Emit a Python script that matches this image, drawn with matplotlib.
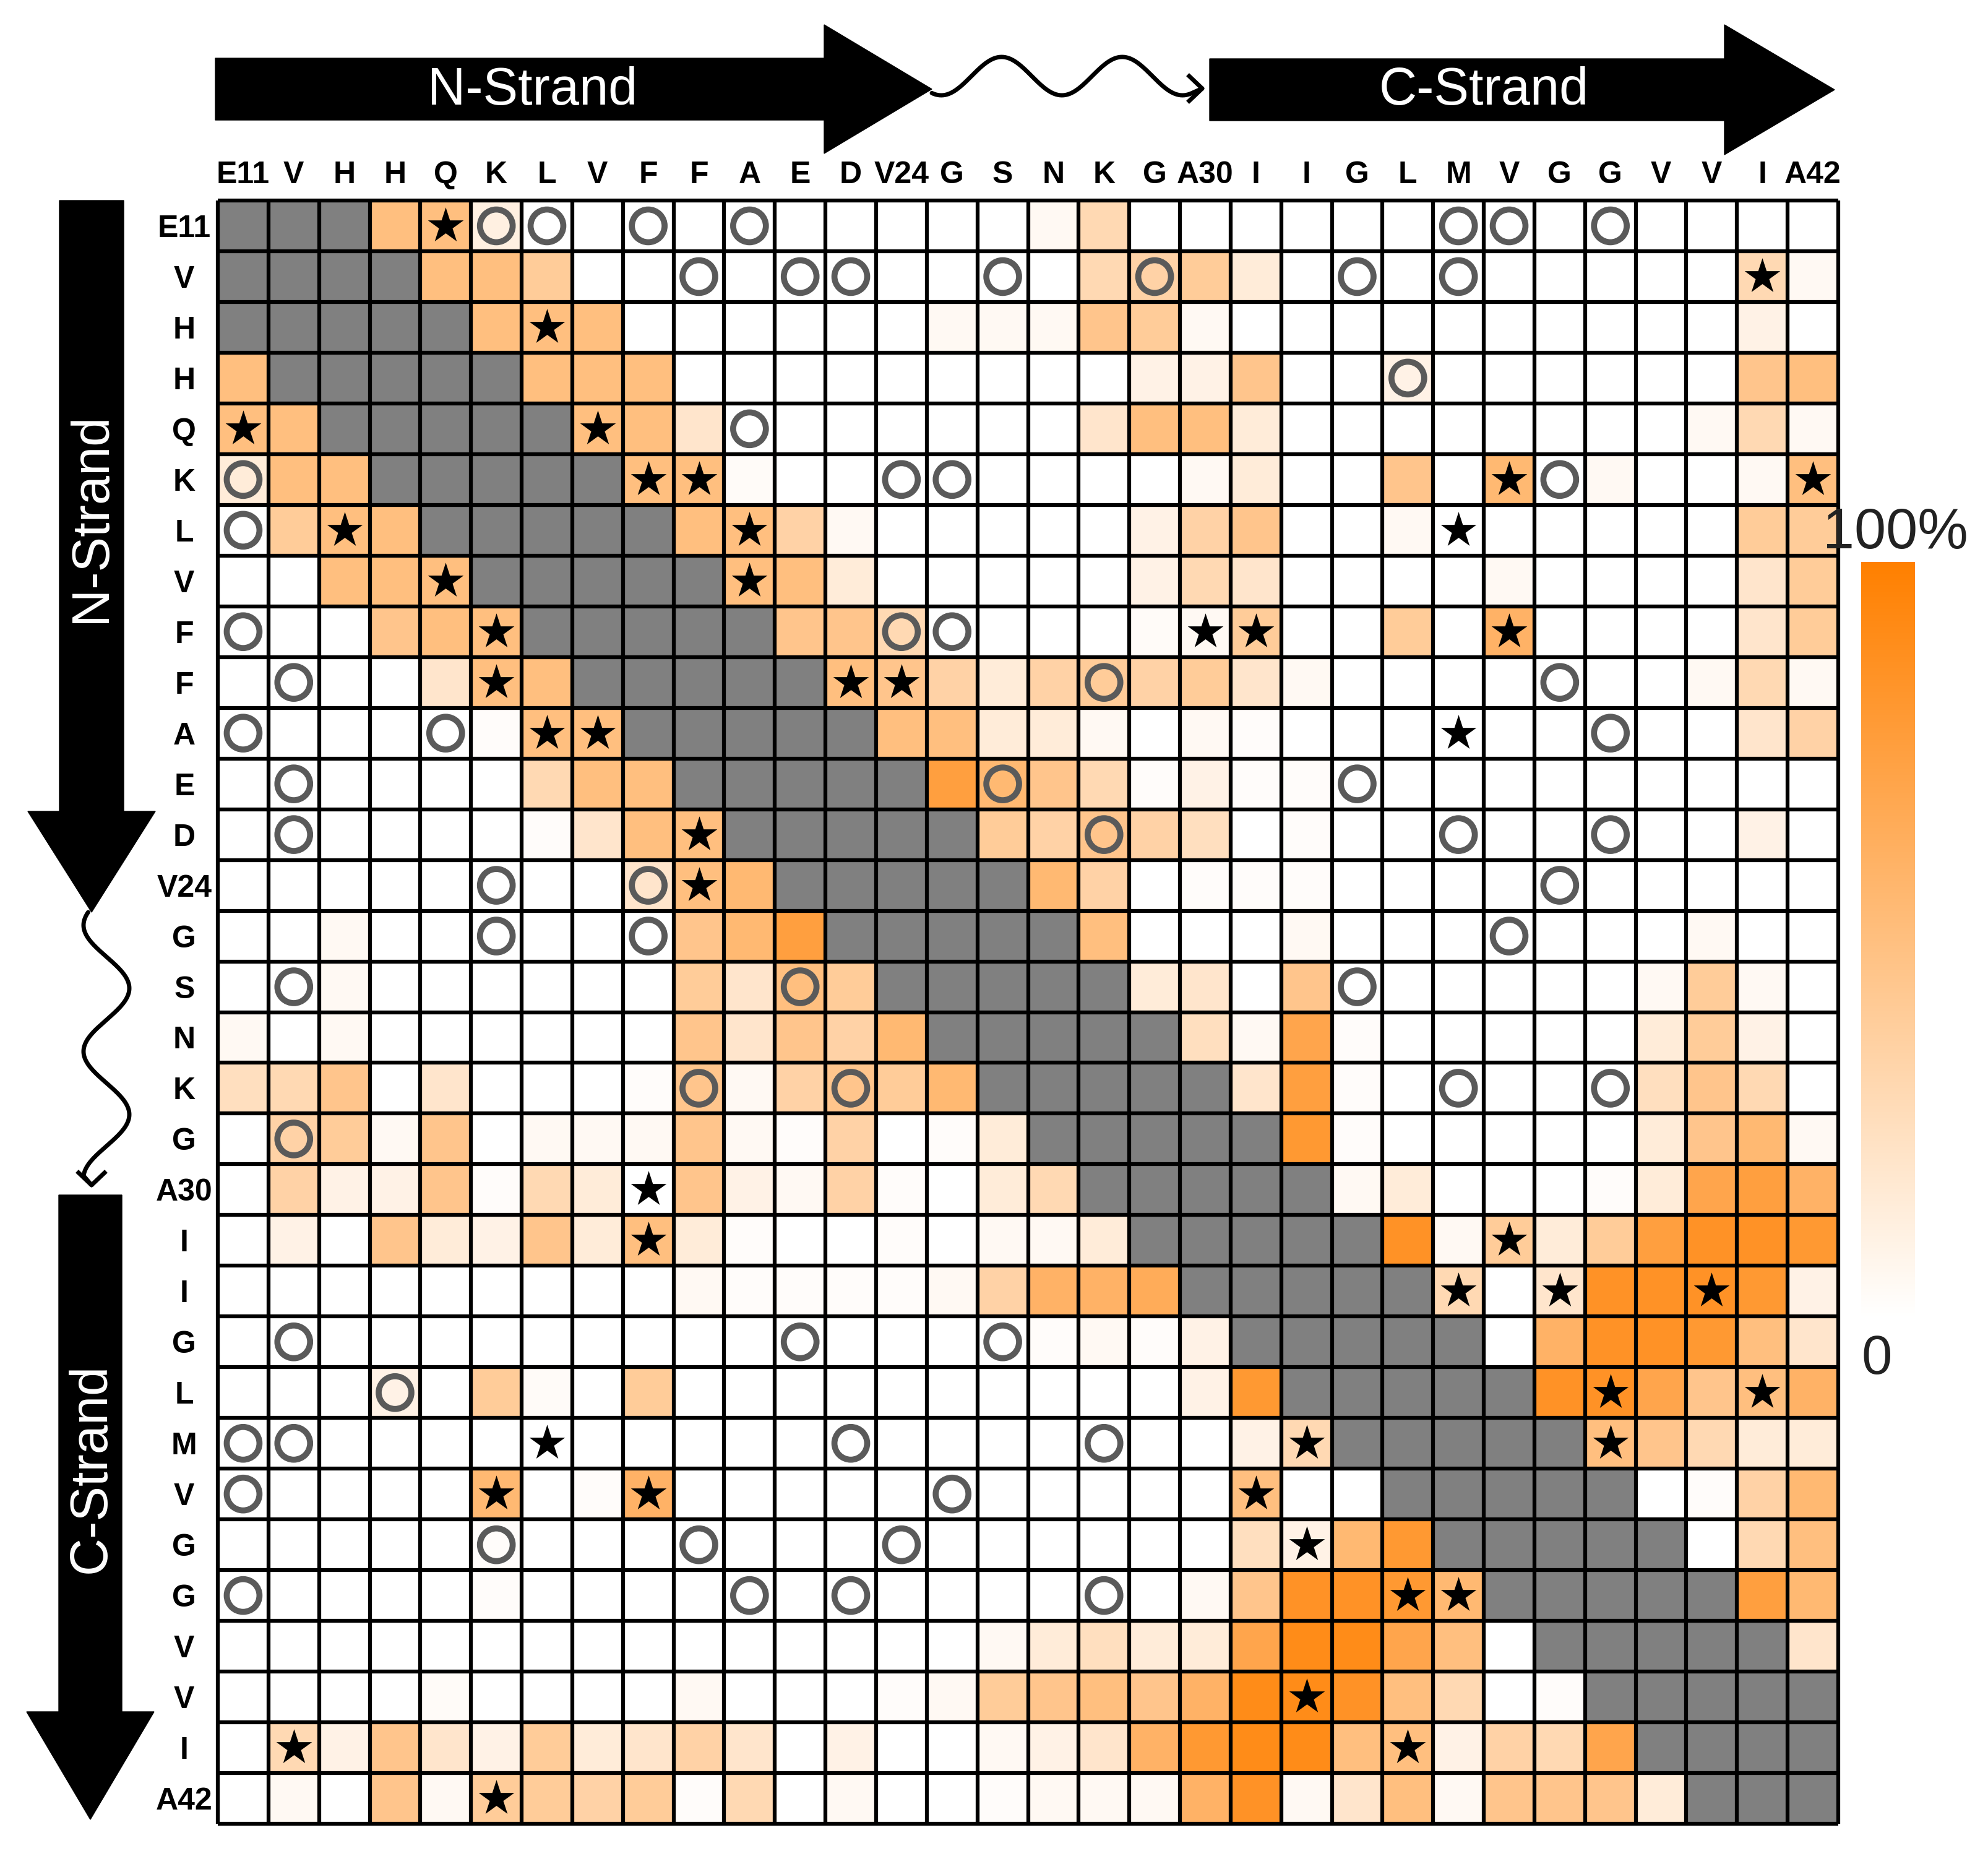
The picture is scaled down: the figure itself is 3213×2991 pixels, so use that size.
import numpy as np
import matplotlib.pyplot as plt
from matplotlib.colors import LinearSegmentedColormap
from matplotlib.patches import Polygon

plt.rcParams["font.family"] = ["Liberation Sans", "DejaVu Sans"]

residues = ["E11", "V", "H", "H", "Q", "K", "L", "V", "F", "F", "A", "E", "D", "V24",
            "G", "S", "N", "K", "G", "A30", "I", "I", "G", "L", "M", "V", "G", "G",
            "V", "V", "I", "A42"]

# contact frequency in %, None = excluded (near-diagonal) pair
G = None
contact = [
    [G, G, G, 50, 50, 12, 0, 0, 0, 0, 0, 0, 0, 0, 0, 0, 5, 30, 0, 0, 0, 0, 0, 0, 0, 0, 0, 0, 0, 0, 0, 0],
    [G, G, G, G, 50, 50, 40, 0, 0, 0, 0, 0, 0, 0, 0, 0, 0, 30, 35, 40, 15, 0, 0, 0, 0, 0, 0, 0, 0, 0, 30, 5],
    [G, G, G, G, G, 50, 50, 50, 0, 0, 0, 0, 0, 0, 5, 5, 5, 45, 40, 5, 0, 0, 0, 0, 0, 0, 0, 0, 0, 0, 10, 0],
    [50, G, G, G, G, G, 50, 50, 50, 0, 0, 0, 0, 0, 0, 0, 0, 0, 10, 10, 45, 0, 0, 10, 0, 0, 0, 0, 0, 0, 45, 50],
    [50, 50, G, G, G, G, G, 50, 50, 20, 0, 0, 0, 0, 0, 0, 0, 20, 50, 50, 15, 0, 0, 0, 0, 0, 0, 0, 0, 5, 30, 5],
    [15, 50, 50, G, G, G, G, G, 50, 50, 3, 0, 0, 0, 0, 0, 0, 0, 0, 5, 15, 0, 0, 45, 0, 55, 0, 5, 0, 0, 5, 50],
    [0, 40, 50, 50, G, G, G, G, G, 50, 50, 35, 5, 0, 0, 0, 0, 0, 10, 35, 45, 0, 0, 5, 0, 0, 0, 0, 0, 0, 40, 40],
    [0, 0, 50, 50, 50, G, G, G, G, G, 50, 50, 15, 0, 0, 0, 0, 0, 10, 30, 20, 0, 0, 0, 0, 5, 0, 0, 0, 0, 20, 40],
    [0, 0, 0, 45, 50, 50, G, G, G, G, G, 45, 45, 30, 0, 0, 0, 0, 3, 5, 40, 0, 0, 40, 0, 60, 0, 0, 0, 0, 20, 40],
    [0, 0, 0, 0, 20, 50, 50, G, G, G, G, G, 50, 45, 35, 15, 35, 40, 35, 40, 20, 5, 0, 0, 0, 0, 0, 0, 0, 5, 30, 5],
    [0, 0, 0, 0, 0, 2, 50, 50, G, G, G, G, G, 50, 50, 15, 15, 5, 0, 5, 2, 0, 0, 0, 0, 0, 0, 0, 0, 0, 20, 35],
    [0, 0, 0, 0, 0, 0, 30, 50, 50, G, G, G, G, G, 75, 55, 45, 30, 2, 10, 2, 2, 0, 0, 0, 0, 0, 0, 0, 0, 0, 0],
    [0, 0, 0, 0, 0, 0, 2, 20, 50, 50, G, G, G, G, G, 40, 35, 45, 35, 25, 0, 2, 0, 0, 0, 0, 0, 0, 0, 0, 10, 0],
    [0, 0, 0, 0, 0, 0, 0, 0, 20, 50, 55, G, G, G, G, G, 55, 35, 0, 2, 2, 2, 0, 0, 0, 0, 0, 0, 0, 0, 0, 0],
    [0, 0, 5, 0, 0, 0, 0, 0, 0, 45, 55, 75, G, G, G, G, G, 50, 0, 0, 0, 5, 0, 0, 0, 0, 0, 0, 0, 5, 0, 0],
    [0, 0, 5, 0, 0, 0, 0, 0, 0, 40, 20, 50, 40, G, G, G, G, G, 15, 20, 0, 45, 0, 0, 0, 0, 0, 0, 5, 40, 5, 0],
    [5, 0, 5, 0, 0, 0, 0, 0, 0, 45, 20, 45, 35, 55, G, G, G, G, G, 25, 5, 70, 2, 0, 0, 0, 0, 0, 15, 40, 10, 0],
    [25, 30, 45, 0, 20, 0, 0, 0, 2, 45, 5, 35, 45, 40, 55, G, G, G, G, G, 20, 75, 2, 0, 0, 0, 0, 0, 25, 45, 30, 0],
    [0, 35, 40, 5, 45, 0, 5, 5, 5, 45, 5, 2, 35, 0, 2, 15, G, G, G, G, G, 80, 2, 0, 0, 0, 0, 0, 15, 45, 55, 5],
    [0, 35, 10, 10, 45, 2, 30, 15, 0, 45, 10, 5, 35, 2, 0, 15, 30, G, G, G, G, G, 5, 15, 0, 0, 0, 2, 15, 70, 75, 60],
    [0, 10, 0, 45, 15, 10, 45, 15, 50, 15, 2, 0, 0, 2, 0, 5, 5, 15, G, G, G, G, G, 85, 5, 40, 15, 40, 75, 85, 85, 80],
    [0, 0, 0, 0, 0, 0, 0, 0, 0, 5, 2, 2, 2, 2, 5, 35, 60, 60, 65, G, G, G, G, G, 30, 0, 20, 85, 85, 85, 80, 10],
    [0, 0, 0, 0, 0, 0, 0, 0, 0, 0, 0, 0, 0, 0, 0, 0, 2, 5, 2, 10, G, G, G, G, G, 0, 60, 85, 85, 80, 50, 20],
    [0, 0, 0, 10, 0, 40, 3, 0, 40, 0, 0, 0, 0, 0, 0, 0, 0, 0, 0, 10, 80, G, G, G, G, G, 85, 85, 70, 45, 50, 60],
    [0, 0, 0, 0, 0, 0, 0, 0, 0, 0, 0, 0, 0, 0, 0, 0, 0, 0, 0, 0, 10, 30, G, G, G, G, G, 50, 45, 30, 15, 15],
    [0, 0, 0, 0, 0, 55, 0, 2, 60, 0, 0, 0, 0, 0, 0, 0, 0, 0, 0, 0, 50, 0, 0, G, G, G, G, G, 0, 2, 35, 55],
    [0, 0, 0, 0, 0, 2, 0, 0, 0, 0, 0, 0, 0, 0, 0, 0, 0, 0, 0, 0, 25, 10, 55, 80, G, G, G, G, G, 0, 30, 50],
    [0, 0, 0, 0, 0, 2, 0, 0, 0, 0, 0, 0, 0, 0, 0, 0, 0, 0, 0, 5, 45, 85, 85, 80, 55, G, G, G, G, G, 75, 55],
    [0, 0, 0, 0, 0, 0, 0, 0, 0, 0, 0, 0, 0, 0, 0, 5, 15, 25, 15, 15, 70, 90, 90, 70, 50, 0, G, G, G, G, G, 20],
    [0, 0, 0, 0, 3, 0, 0, 0, 0, 5, 0, 0, 0, 2, 5, 40, 45, 50, 45, 60, 90, 90, 85, 50, 30, 0, 2, G, G, G, G, G],
    [0, 30, 10, 45, 20, 10, 40, 15, 20, 35, 20, 0, 10, 0, 0, 5, 10, 20, 60, 80, 90, 90, 50, 50, 10, 35, 30, 70, G, G, G, G],
    [0, 5, 0, 45, 5, 40, 40, 35, 40, 2, 30, 0, 5, 0, 0, 2, 5, 5, 5, 60, 85, 5, 20, 50, 5, 45, 45, 45, 15, G, G, G],
]

# (row, col) cells carrying an open circle / a star
circle_cells = [
    (0, 5), (0, 6), (0, 8), (0, 10), (0, 24), (0, 25), (0, 27),
    (1, 9), (1, 11), (1, 12), (1, 15), (1, 18), (1, 22), (1, 24),
    (3, 23), (4, 10), (5, 0), (5, 13), (5, 14), (5, 26), (6, 0),
    (8, 0), (8, 13), (8, 14), (9, 1), (9, 17), (9, 26),
    (10, 0), (10, 4), (10, 27), (11, 1), (11, 15), (11, 22),
    (12, 1), (12, 17), (12, 24), (12, 27), (13, 5), (13, 8), (13, 26),
    (14, 5), (14, 8), (14, 25), (15, 1), (15, 11), (15, 22),
    (17, 9), (17, 12), (17, 24), (17, 27), (18, 1),
    (22, 1), (22, 11), (22, 15), (23, 3),
    (24, 0), (24, 1), (24, 12), (24, 17), (25, 0), (25, 14),
    (26, 5), (26, 9), (26, 13), (27, 0), (27, 10), (27, 12), (27, 17),
]
star_cells = [
    (0, 4), (1, 30), (2, 6), (4, 0), (4, 7), (5, 8), (5, 9), (5, 25), (5, 31),
    (6, 2), (6, 10), (6, 24), (7, 4), (7, 10), (8, 5), (8, 19), (8, 20), (8, 25),
    (9, 5), (9, 12), (9, 13), (10, 6), (10, 7), (10, 24), (12, 9), (13, 9),
    (19, 8), (20, 8), (20, 25), (21, 24), (21, 26), (21, 29), (23, 27), (23, 30),
    (24, 6), (24, 21), (24, 27), (25, 5), (25, 8), (25, 20), (26, 21),
    (27, 23), (27, 24), (29, 21), (30, 1), (30, 23), (31, 5),
]

W, H = 3213, 2991
fig = plt.figure(figsize=(W / 100, H / 100), dpi=100)


def px_axes(x0, y0, x1, y1):
    return fig.add_axes([x0 / W, 1 - y1 / H, (x1 - x0) / W, (y1 - y0) / H])


n = len(residues)
vals = np.array([[np.nan if v is None else v for v in row] for row in contact], float)
cmap = LinearSegmentedColormap.from_list("white_orange", ["#ffffff", "#ff8000"])
cmap.set_bad("#808080")

ax = px_axes(352, 324, 2971, 2947)
im = ax.imshow(np.ma.masked_invalid(vals), cmap=cmap, vmin=0, vmax=100,
               extent=(0, n, n, 0), interpolation="nearest", aspect="auto")
ax.hlines(np.arange(n + 1), 0, n, color="black", lw=4.5, clip_on=False, zorder=2)
ax.vlines(np.arange(n + 1), 0, n, color="black", lw=4.5, clip_on=False, zorder=2)

cr, cc = np.array(circle_cells).T
ax.scatter(cc + 0.5, cr + 0.5, s=1450, marker="o", facecolors="none",
           edgecolors="#5a5a5a", linewidths=7, zorder=3)
sr, sc = np.array(star_cells).T
ax.scatter(sc + 0.5, sr + 0.5, s=1900, marker="*", color="black", linewidths=0, zorder=3)

ax.set_xlim(0, n)
ax.set_ylim(n, 0)
ax.xaxis.tick_top()
ax.set_xticks(np.arange(n) + 0.5, residues, fontsize=36, fontweight="bold")
ax.set_yticks(np.arange(n) + 0.5, residues, fontsize=36, fontweight="bold")
ax.tick_params(axis="x", length=0, pad=13)
ax.tick_params(axis="y", length=0, pad=39)
for lab in ax.get_yticklabels():
    lab.set_ha("center")
for s in ax.spines.values():
    s.set_visible(False)

# colour bar
cax = px_axes(3008, 908, 3095, 2131)
cb = fig.colorbar(im, cax=cax)
cb.set_ticks([])
cb.outline.set_visible(False)

# strand arrows drawn in figure pixel space
ov = fig.add_axes([0, 0, 1, 1])
ov.set_xlim(0, W)
ov.set_ylim(H, 0)
ov.axis("off")
ov.patch.set_alpha(0)


def h_arrow(x0, x1, x2, yc, hb, hh):
    return [(x0, yc - hb), (x1, yc - hb), (x1, yc - hh), (x2, yc),
            (x1, yc + hh), (x1, yc + hb), (x0, yc + hb)]


def v_arrow(y0, y1, y2, xc, hb, hh):
    return [(x, y) for y, x in h_arrow(y0, y1, y2, xc, hb, hh)]


ov.add_patch(Polygon(h_arrow(348, 1332, 1506, 144, 50, 104), color="black"))
ov.add_patch(Polygon(h_arrow(1955, 2787, 2965, 145, 50, 105), color="black"))
ov.add_patch(Polygon(v_arrow(324, 1311, 1474, 148, 52, 103), color="black"))
ov.add_patch(Polygon(v_arrow(1931, 2766, 2940, 146, 51, 103), color="black"))

ov.text(861, 147, "N-Strand", color="white", fontsize=61, ha="center", va="center")
ov.text(2398, 147, "C-Strand", color="white", fontsize=61, ha="center", va="center")
ov.text(148, 836, "N-Strand", color="white", fontsize=61, ha="center", va="center", rotation=90)
ov.text(148, 2372, "C-Strand", color="white", fontsize=61, ha="center", va="center", rotation=90)

# loop squiggles
t = np.linspace(1506, 1925, 400)
ov.plot(np.r_[t, 1943], np.r_[123 - 31 * np.sin(2 * np.pi * (t - 1570) / 195), 143],
        color="black", lw=5, solid_capstyle="round")
ov.plot([1922, 1943, 1922], [123, 143, 163], color="black", lw=5)
u = np.linspace(1474, 1900, 400)
ov.plot(np.r_[172 + 37 * np.sin(2 * np.pi * (u - 1546) / 204), 148], np.r_[u, 1915],
        color="black", lw=5, solid_capstyle="round")
ov.plot([127, 148, 169], [1895, 1915, 1895], color="black", lw=5)

ov.text(3063, 862, "100%", fontsize=66, color="#222222", ha="center", va="center")
ov.text(3033, 2197, "0", fontsize=64, color="#222222", ha="center", va="center")

fig.savefig("out.png", dpi=100)
